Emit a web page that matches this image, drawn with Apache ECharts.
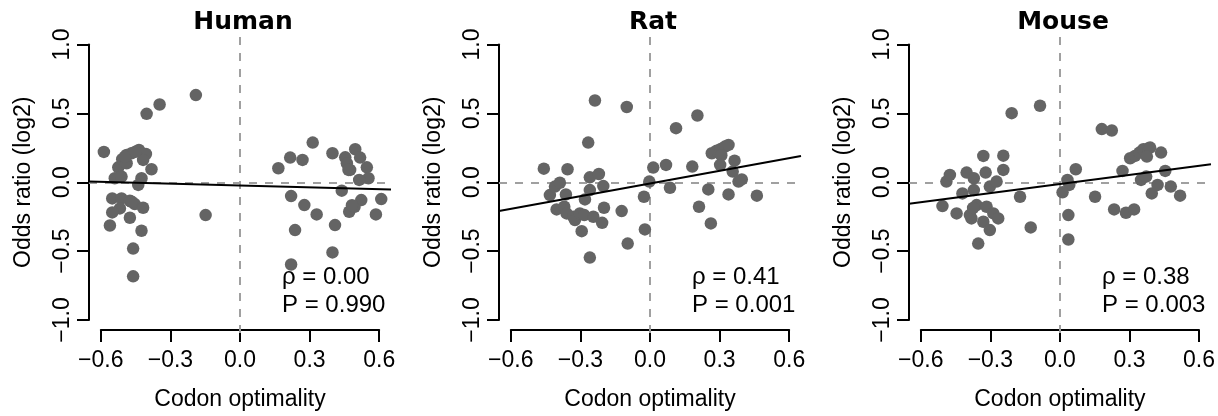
<!DOCTYPE html>
<html lang="en">
<head>
<meta charset="UTF-8">
<title>Codon optimality vs odds ratio</title>
<script src="https://cdn.jsdelivr.net/npm/echarts@6.0.0/dist/echarts.min.js"></script>
<style>
  html, body { margin: 0; padding: 0; background: #fff; }
  #chart { width: 1218px; height: 416px; }
</style>
</head>
<body>
<div id="chart"></div>
<script>
// panel names and stats text
var species = ['Human', 'Rat', 'Mouse'];
var rhoText = ['\u03c1 = 0.00', '\u03c1 = 0.41', '\u03c1 = 0.38'];
var pText = ['P = 0.990', 'P = 0.001', 'P = 0.003'];

// fitted lines
var fitSlope = [-0.043, 0.305, 0.219];
var fitIntercept = [-0.018, -0.004, -0.007];

var xTicks = [-0.6, -0.3, 0, 0.3, 0.6];
var yTicks = [-1, -0.5, 0, 0.5, 1];

// Human
var humanX = [-0.586, -0.402, -0.346, -0.19, -0.148,
  -0.524, -0.507, -0.488, -0.467, -0.435, -0.405, -0.417, -0.381, -0.488, -0.495, -0.45,
  -0.539, -0.51, -0.424, -0.438,
  -0.55, -0.51, -0.474, -0.453, -0.417, -0.517, -0.55, -0.56, -0.474, -0.424, -0.46, -0.46, -0.467,
  0.165, 0.216, 0.269, 0.313, 0.398, 0.453, 0.46, 0.474, 0.496, 0.517, 0.546, 0.553, 0.513, 0.438,
  0.22, 0.277, 0.33, 0.237, 0.409, 0.398, 0.22, 0.47, 0.493, 0.522, 0.585, 0.608, 0.482, 0.467];
var humanY = [0.224, 0.498, 0.565, 0.633, -0.231,
  0.113, 0.171, 0.202, 0.214, 0.238, 0.209, 0.166, 0.099, 0.142, 0.19, 0.225,
  0.034, 0.046, 0.034, -0.014,
  -0.111, -0.111, -0.128, -0.152, -0.178, -0.183, -0.212, -0.306, -0.25, -0.344, -0.472, -0.672, -0.135,
  0.106, 0.183, 0.166, 0.291, 0.214, 0.185, 0.142, 0.094, 0.243, 0.183, 0.113, 0.034, 0.022, -0.055,
  -0.094, -0.159, -0.226, -0.339, -0.303, -0.5, -0.587, -0.207, -0.171, -0.123, -0.226, -0.116, -0.16, 0.094];

// Rat
var ratX = [-0.457, -0.355, -0.237, -0.1, -0.266,
  -0.431, -0.409, -0.388, -0.402, -0.362, -0.369, -0.359, -0.33, -0.323, -0.302, -0.283, -0.244,
  -0.206, -0.198, -0.294, -0.259, -0.28, -0.259, -0.259, -0.22, -0.201, -0.122, -0.096,
  -0.003, -0.026, -0.022, 0.014, 0.069, 0.086, 0.112, 0.182, 0.204, 0.211, 0.251, 0.262,
  0.266, 0.287, 0.305, 0.323, 0.338, 0.307, 0.302, 0.338, 0.356, 0.364, 0.381, 0.395, 0.46];
var ratY = [0.103, 0.099, 0.594, 0.547, 0.291,
  -0.087, -0.026, 0.002, -0.19, -0.082, -0.171, -0.219, -0.243, -0.267, -0.219, -0.231, -0.243,
  -0.287, -0.178, -0.347, -0.537, -0.118, -0.051, 0.041, 0.065, -0.022, -0.202, -0.436,
  0.01, -0.099, -0.334, 0.111, 0.13, -0.034, 0.395, 0.118, 0.486, -0.171, -0.046, -0.291,
  0.214, 0.233, 0.245, 0.262, 0.274, 0.2, 0.13, -0.082, 0.082, 0.161, 0.01, 0.026, -0.091];

// Mouse
var mouseX = [-0.506, -0.489, -0.474, -0.445, -0.42, -0.402, -0.371, -0.371, -0.359, -0.381, -0.352,
  -0.33, -0.32, -0.33, -0.316, -0.302, -0.287, -0.266, -0.302, -0.273, -0.244, -0.244,
  -0.172, -0.208, -0.126, -0.086, -0.388, -0.374,
  0.269, 0.302, 0.323, 0.342, 0.359, 0.381, 0.388, 0.374, 0.435, 0.453, 0.349, 0.371,
  0.395, 0.42, 0.477, 0.517, 0.233, 0.284, 0.319, 0.151, 0.18, 0.223,
  0.068, 0.032, 0.04, 0.011, 0.036, 0.036];
var mouseY = [-0.166, 0.01, 0.058, -0.219, -0.075, 0.075, 0.034, -0.051, -0.159, -0.255, -0.436,
  0.195, 0.075, -0.279, -0.171, -0.339, -0.219, -0.255, -0.026, 0.01, 0.197, 0.094,
  -0.099, 0.503, -0.32, 0.556, -0.231, -0.18,
  0.087, 0.178, 0.195, 0.219, 0.243, 0.25, 0.255, 0.19, 0.219, 0.087, 0.022, 0.046,
  -0.075, -0.014, -0.026, -0.091, -0.19, -0.214, -0.19, -0.099, 0.388, 0.378,
  0.099, 0.022, -0.014, -0.067, -0.231, -0.407];

var allX = [humanX, ratX, mouseX];
var allY = [humanY, ratY, mouseY];

var panelLeft = [0, 410, 820];
var font = 'Liberation Sans, Arial, sans-serif';
var pointColor = '#646464';
var dashColor = '#a0a0a0';

function fmt(v) {
  return v.toFixed(1).replace('-', '\u2212');
}

var grids = [], xAxes = [], yAxes = [], series = [], graphics = [];

for (var p = 0; p < 3; p++) {
  var o = panelLeft[p];
  // data grid (plot region, x -0.65..0.65, y -1.08..1.08)
  grids.push({ left: o + 89, top: 33, width: 302, height: 300 });
  // axis grid (ticks only from -0.6..0.6 and -1..1)
  grids.push({ left: o + 100.8, top: 44.5, width: 278.4, height: 277 });

  var gData = p * 2, gAxis = p * 2 + 1;

  xAxes.push({
    gridIndex: gData, type: 'value', min: -0.65, max: 0.65,
    show: false, splitLine: { show: false }
  });
  yAxes.push({
    gridIndex: gData, type: 'value', min: -1.08, max: 1.08,
    show: false, splitLine: { show: false }
  });

  xAxes.push({
    gridIndex: gAxis, type: 'value', min: -0.6, max: 0.6, interval: 0.3,
    position: 'bottom', offset: 10,
    name: 'Codon optimality', nameLocation: 'middle', nameGap: 58,
    nameTextStyle: { fontFamily: font, fontSize: 23, color: '#000' },
    axisLine: { show: true, onZero: false, lineStyle: { color: '#000', width: 2 } },
    axisTick: { show: true, length: 12, lineStyle: { color: '#000', width: 2 } },
    axisLabel: { margin: 19, fontFamily: font, fontSize: 23, color: '#000', formatter: fmt,
      showMinLabel: true, showMaxLabel: true },
    splitLine: { show: false }
  });
  yAxes.push({
    gridIndex: gAxis, type: 'value', min: -1, max: 1, interval: 0.5,
    position: 'left', offset: 11.8,
    name: 'Odds ratio (log2)', nameLocation: 'middle', nameGap: 54, nameRotate: 90,
    nameTextStyle: { fontFamily: font, fontSize: 23, color: '#000' },
    axisLine: { show: true, onZero: false, lineStyle: { color: '#000', width: 2 } },
    axisTick: { show: true, length: 12, lineStyle: { color: '#000', width: 2 } },
    axisLabel: { margin: 15, rotate: 90, fontFamily: font, fontSize: 23, color: '#000', formatter: fmt,
      showMinLabel: true, showMaxLabel: true },
    splitLine: { show: false }
  });

  var pts = allX[p].map(function (x, i) { return [x, allY[p][i]]; });

  series.push({
    type: 'scatter', xAxisIndex: gData, yAxisIndex: gData,
    data: pts, symbolSize: 12.5, z: 3,
    itemStyle: { color: pointColor, opacity: 1 },
    silent: true,
    markLine: {
      silent: true, symbol: ['none', 'none'], label: { show: false },
      lineStyle: { color: dashColor, width: 2, type: [8, 8] },
      data: [{ xAxis: 0 }, { yAxis: 0 }],
      z: 2
    }
  });

  var xa = -0.65, xb = 0.65;
  series.push({
    type: 'line', xAxisIndex: gData, yAxisIndex: gData,
    data: [[xa, fitIntercept[p] + fitSlope[p] * xa], [xb, fitIntercept[p] + fitSlope[p] * xb]],
    showSymbol: false, silent: true, z: 4,
    lineStyle: { color: '#000', width: 2 }
  });

  graphics.push({
    type: 'text', x: o + 243, y: 22,
    style: { text: species[p], font: 'bold 25px "DejaVu Sans", sans-serif', fill: '#000',
      textAlign: 'center', textVerticalAlign: 'middle' }
  });
  graphics.push({
    type: 'text', x: o + 282, y: 277,
    style: { text: rhoText[p], font: '24px ' + font, fill: '#000',
      textAlign: 'left', textVerticalAlign: 'middle' }
  });
  graphics.push({
    type: 'text', x: o + 282, y: 305,
    style: { text: pText[p], font: '24px ' + font, fill: '#000',
      textAlign: 'left', textVerticalAlign: 'middle' }
  });
}

var chart = echarts.init(document.getElementById('chart'), null, { renderer: 'canvas' });
chart.setOption({
  animation: false,
  backgroundColor: '#fff',
  grid: grids,
  xAxis: xAxes,
  yAxis: yAxes,
  series: series,
  graphic: graphics
});
</script>
</body>
</html>
